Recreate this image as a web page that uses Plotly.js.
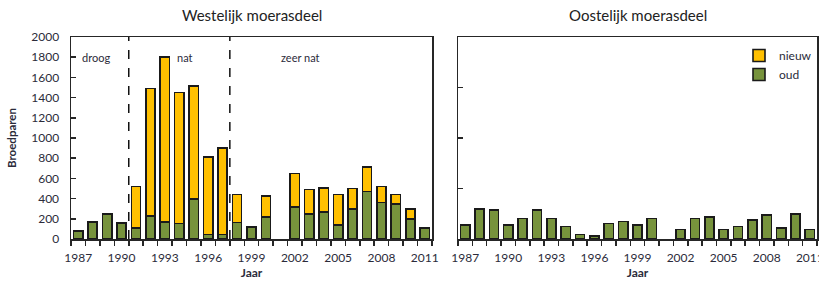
<!DOCTYPE html>
<html>
<head>
<meta charset="utf-8">
<script src="https://cdn.plot.ly/plotly-3.0.1.min.js"></script>
<style>html,body{margin:0;padding:0;background:#fff;}#chart{width:819px;height:284px;}</style>
</head>
<body>
<div id="chart"></div>
<script>
// ---- data ----
const years = [1987,1988,1989,1990,1991,1992,1993,1994,1995,1996,1997,1998,1999,2000,2001,2002,2003,2004,2005,2006,2007,2008,2009,2010,2011];
// Westelijk moerasdeel (null = no bar)
const westOud   = [80,170,250,160,110,230,170,155,395,45,45,165,120,215,null,315,250,265,140,300,470,360,345,200,110];
const westNieuw = [null,null,null,null,410,1260,1630,1295,1120,765,855,275,null,210,null,335,240,240,300,200,240,160,95,100,null];
// Oostelijk moerasdeel
const oostOud   = [140,300,285,140,205,285,205,125,45,30,155,175,140,205,null,95,205,220,95,125,190,235,110,250,95];
const oostNieuw = [null,null,null,null,null,null,null,null,null,null,null,null,null,null,null,null,null,null,null,null,null,null,null,null,null];
const tickYears = [1987,1990,1993,1996,1999,2002,2005,2008,2011];
// periods (west): label and first year
const periodLabels = ['droog','nat','zeer nat'];
const periodStart  = [1987,1991,1998];
const periodLabelYear = [1987.1,1994.4,2002.4];
const periodLabelValue = [1800,1800,1800];

// ---- style ----
const GREEN = '#77933C', YELLOW = '#FFC000', EDGE = '#1a1a1a', AX = '#262626', TXT = '#2b2b3a';
const FONT = 'Lato, "Open Sans", sans-serif';

const cats = years.map(String);
const catText = years.map(y => tickYears.indexOf(y) >= 0 ? String(y) : '');
const idx = y => y - years[0];   // category index of a (fractional) year

function bar(x, y, name, color, xa, ya, show) {
  return {type:'bar', x:x, y:y, name:name, xaxis:xa, yaxis:ya, showlegend:show, legendgroup:name,
    marker:{color:color, line:{color:EDGE, width:1.6}}, hoverinfo:'skip'};
}

const traces = [
  bar(cats, westOud, 'oud', GREEN, 'x', 'y', true),
  bar(cats, westNieuw, 'nieuw', YELLOW, 'x', 'y', true),
  bar(cats, oostOud, 'oud', GREEN, 'x2', 'y2', false),
  bar(cats, oostNieuw, 'nieuw', YELLOW, 'x2', 'y2', false)
];

const W = 819, L = 71, R = 2;
const pw = W - L - R;
const d1 = [0, (432-L)/pw], d2 = [(458-L)/pw, 1];

function xax(domain, anchor) {
  return {type:'category', domain:domain, anchor:anchor, range:[-0.5, years.length-0.5],
    tickmode:'array', tickvals:cats, ticktext:catText, tickson:'boundaries', tickangle:0,
    ticks:'outside', ticklen:5, tickwidth:1.5, tickcolor:AX, ticklabeloverflow:'allow',
    showline:true, linecolor:AX, linewidth:1.5, mirror:true, showgrid:false, zeroline:false,
    tickfont:{family:FONT, size:12, color:TXT}, ticklabelstandoff:7, automargin:false,
    title:{text:'<b>Jaar</b>', font:{family:FONT, size:12, color:TXT}, standoff:4}};
}
function yax(domain, anchor, dtick, labels) {
  return {domain:domain, anchor:anchor, range:[0,2000], dtick:dtick, ticks:'inside', ticklen:5, tickwidth:1.5, tickcolor:AX,
    showticklabels:labels, showline:true, linecolor:AX, linewidth:1.5, mirror:true, showgrid:false, zeroline:false,
    tickfont:{family:FONT, size:12, color:TXT}, ticklabelstandoff:8, automargin:false,
    title:labels ? {text:'<b>Broedparen</b>', font:{family:FONT, size:11.5, color:TXT}, standoff:12} : {text:''}};
}

const shapes = periodStart.slice(1).map(y => ({type:'line', xref:'x', yref:'y', x0:idx(y)-0.5, x1:idx(y)-0.5, y0:0, y1:2000,
  line:{color:'#111', width:1.5, dash:'dash'}}));

const annotations = periodLabels.map((t,i) => ({xref:'x', yref:'y', x:idx(periodLabelYear[i]), y:periodLabelValue[i],
  text:t, showarrow:false, xanchor: i===0 ? 'left' : 'center', font:{family:FONT, size:11, color:TXT}}));
annotations.push({xref:'x domain', yref:'paper', x:0.5, y:1, yshift:22, text:'Westelijk moerasdeel', showarrow:false,
  font:{family:FONT, size:15, color:'#222'}, yanchor:'middle'});
annotations.push({xref:'x2 domain', yref:'paper', x:0.5, y:1, yshift:22, text:'Oostelijk moerasdeel', showarrow:false,
  font:{family:FONT, size:15, color:'#222'}, yanchor:'middle'});

const layout = {
  width:W, height:284, margin:{l:L, r:R, t:37, b:45},
  paper_bgcolor:'#fff', plot_bgcolor:'#fff',
  barmode:'stack', bargap:0.36,
  font:{family:FONT, color:TXT},
  xaxis: xax(d1, 'y'),
  yaxis: yax([0,1], 'x', 200, true),
  xaxis2: xax(d2, 'y2'),
  yaxis2: yax([0,1], 'x2', 500, false),
  shapes: shapes,
  annotations: annotations,
  showlegend:true,
  legend:{x:1.0, y:0.98, xanchor:'right', yanchor:'top', traceorder:'reversed', bgcolor:'rgba(0,0,0,0)',
    font:{family:FONT, size:12, color:TXT}, itemwidth:30, tracegroupgap:0}
};

Plotly.newPlot('chart', traces, layout, {staticPlot:true, displayModeBar:false});
</script>
</body>
</html>
